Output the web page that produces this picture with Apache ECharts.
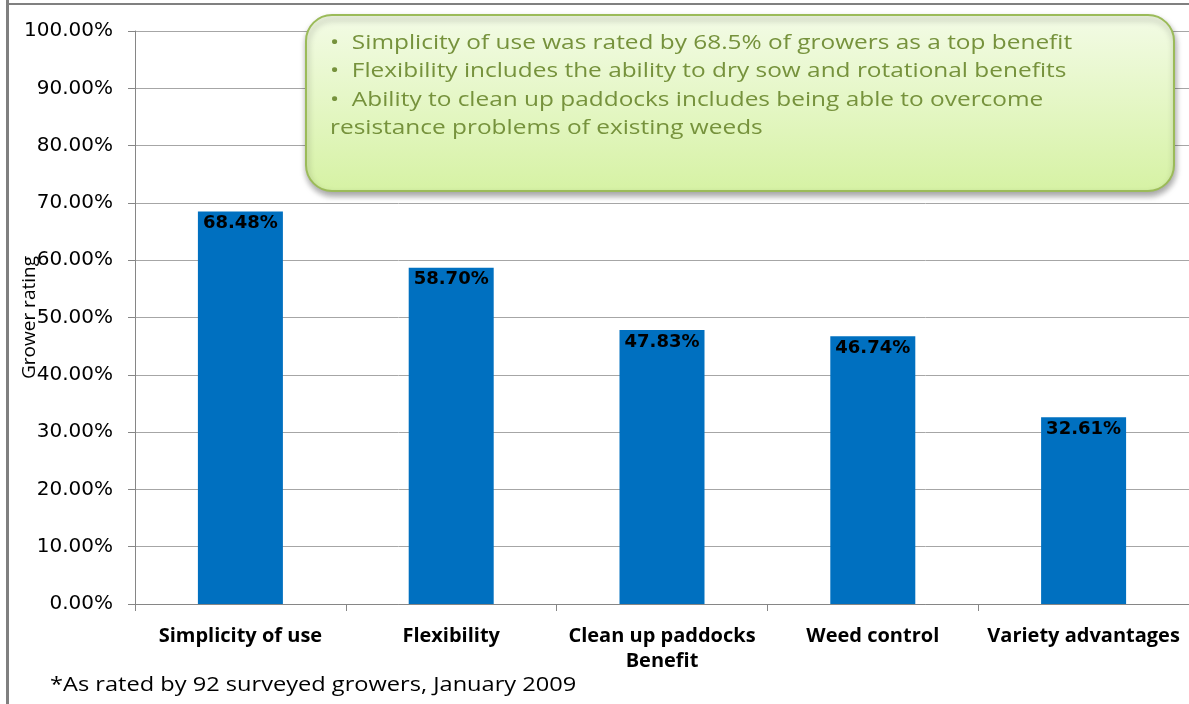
<!DOCTYPE html>
<html>
<head>
<meta charset="utf-8">
<script src="https://cdn.jsdelivr.net/npm/echarts@6/dist/echarts.min.js"></script>
<style>
html,body{margin:0;padding:0;background:#fff;}
#chart{width:1189px;height:704px;}
</style>
</head>
<body>
<div id="chart"></div>
<script>
const categories = ['Simplicity of use', 'Flexibility', 'Clean up paddocks', 'Weed control', 'Variety advantages'];
const values = [68.48, 58.70, 47.83, 46.74, 32.61];
const calloutLines = [
  '•  Simplicity of use was rated by 68.5% of growers as a top benefit',
  '•  Flexibility includes the ability to dry sow and rotational benefits',
  '•  Ability to clean up paddocks includes being able to overcome',
  'resistance problems of existing weeds'
];
const footnote = '*As rated by 92 surveyed growers, January 2009';
const xAxisName = 'Benefit';
const yAxisName = 'Grower rating';

const chart = echarts.init(document.getElementById('chart'));

const calloutTexts = calloutLines.map((t, i) => ({
  type: 'text',
  x: 330,
  y: 33 + i * 28.5,
  scaleX: 1.22,
  z: 102,
  style: {
    text: t,
    fill: '#76923c',
    font: '20px "Open Sans"'
  }
}));

chart.setOption({
  animation: false,
  grid: { left: 135, right: 0, top: 31, bottom: 100, containLabel: false, outerBoundsMode: 'none' },
  xAxis: {
    type: 'category',
    data: categories,
    name: xAxisName,
    nameLocation: 'middle',
    nameGap: 47,
    nameMoveOverlap: false,
    nameTextStyle: { color: '#000', fontFamily: 'Open Sans', fontWeight: 'bold', fontSize: 20 },
    axisLine: { lineStyle: { color: '#868686', width: 1 } },
    axisTick: { show: true, length: 7, lineStyle: { color: '#868686' } },
    axisLabel: { color: '#000', fontFamily: 'Open Sans', fontWeight: 'bold', fontSize: 20, margin: 22, interval: 0 }
  },
  yAxis: {
    type: 'value',
    min: 0, max: 100, interval: 10,
    name: yAxisName,
    nameLocation: 'middle',
    nameGap: 96,
    nameRotate: 90,
    nameMoveOverlap: false,
    nameTextStyle: { color: '#000', fontFamily: 'Open Sans', fontSize: 19 },
    axisLine: { show: true, lineStyle: { color: '#868686' } },
    axisTick: { show: true, length: 7, lineStyle: { color: '#868686' } },
    axisLabel: {
      color: '#000', fontFamily: 'DejaVu Sans', fontSize: 20, margin: 22,
      formatter: v => v.toFixed(2) + '%'
    },
    splitLine: { show: true, lineStyle: { color: '#a6a6a6', width: 1 } }
  },
  series: [{
    type: 'bar',
    data: values,
    barWidth: 85,
    itemStyle: { color: '#0070c0' },
    label: {
      show: true,
      position: 'insideTop',
      distance: 3,
      color: '#000',
      fontFamily: 'DejaVu Sans',
      fontWeight: 'bold',
      fontSize: 18,
      formatter: p => p.value.toFixed(2) + '%'
    }
  }],
  graphic: [
    { type: 'rect', left: 6, top: 0, shape: { width: 3, height: 704 }, style: { fill: '#808080' }, z: 90 },
    { type: 'rect', left: 6, top: 3, shape: { width: 1183, height: 2 }, style: { fill: '#808080' }, z: 90 },
    {
      type: 'rect', left: 305, top: 14, z: 100,
      shape: { width: 868, height: 176, r: 26 },
      style: {
        fill: new echarts.graphic.LinearGradient(0, 0, 0, 1, [
          { offset: 0, color: '#f3fbe6' },
          { offset: 1, color: '#d6f2a4' }
        ]),
        stroke: '#9bbb59',
        lineWidth: 2,
        shadowBlur: 6,
        shadowOffsetX: 1,
        shadowOffsetY: 4,
        shadowColor: 'rgba(0,0,0,0.35)'
      }
    },
    ...calloutTexts,
    {
      type: 'text', x: 50, y: 675, scaleX: 1.18, z: 100,
      style: { text: footnote, fill: '#000', font: '20px "Open Sans"' }
    }
  ]
});
</script>
</body>
</html>
